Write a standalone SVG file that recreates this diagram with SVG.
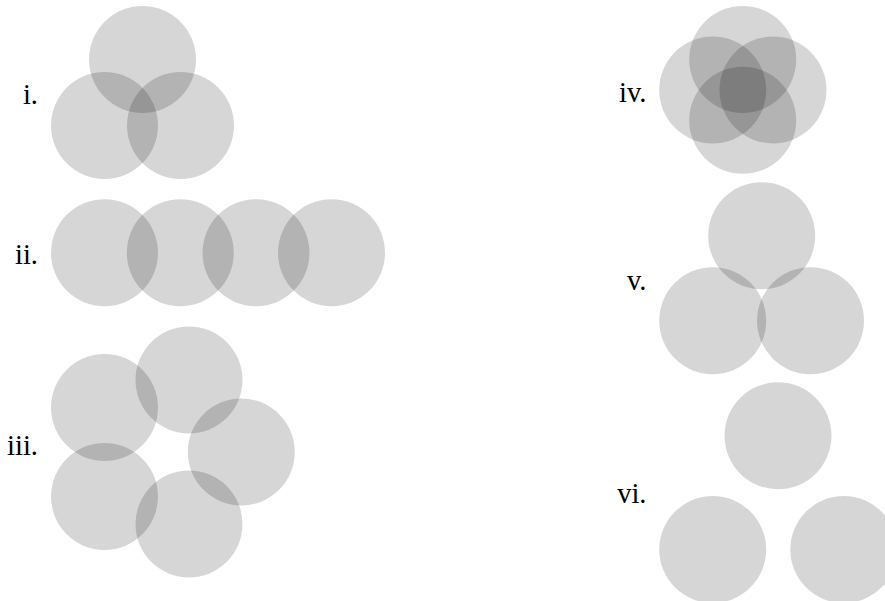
<svg xmlns="http://www.w3.org/2000/svg" width="885" height="601" viewBox="0 0 885 601">
  <style>
    .disc { fill: #000; fill-opacity: 0.16; }
    .label { font-family: "Liberation Serif", "DejaVu Serif", serif; font-size: 28.5px; fill: #000; text-anchor: end; }
  </style>
  <defs>
    <circle id="c" r="53.5"/>
  </defs>
  <rect width="885" height="601" fill="#fff"/>

  <!-- i. three discs, pairwise and triple overlap -->
  <g id="fig-i">
    <text class="label" x="38" y="104">i.</text>
    <use href="#c" class="disc" x="142.5" y="59.5"/>
    <use href="#c" class="disc" x="104.5" y="125.5"/>
    <use href="#c" class="disc" x="180.5" y="125.5"/>
  </g>

  <!-- ii. chain of four discs -->
  <g id="fig-ii">
    <text class="label" x="38" y="264">ii.</text>
    <use href="#c" class="disc" x="104.5" y="252.7"/>
    <use href="#c" class="disc" x="180.3" y="252.7"/>
    <use href="#c" class="disc" x="256" y="252.7"/>
    <use href="#c" class="disc" x="331.5" y="252.7"/>
  </g>

  <!-- iii. ring of five discs -->
  <g id="fig-iii">
    <text class="label" x="38" y="455">iii.</text>
    <use href="#c" class="disc" x="104.5" y="407.5"/>
    <use href="#c" class="disc" x="189" y="380"/>
    <use href="#c" class="disc" x="241.3" y="452"/>
    <use href="#c" class="disc" x="189" y="524"/>
    <use href="#c" class="disc" x="104.5" y="496.5"/>
  </g>

  <!-- iv. four discs in a diamond -->
  <g id="fig-iv">
    <text class="label" x="646.5" y="102">iv.</text>
    <use href="#c" class="disc" x="742.7" y="59.5"/>
    <use href="#c" class="disc" x="712.7" y="90"/>
    <use href="#c" class="disc" x="773" y="90"/>
    <use href="#c" class="disc" x="742.7" y="120.3"/>
  </g>

  <!-- v. three discs, pairwise overlap only -->
  <g id="fig-v">
    <text class="label" x="646.5" y="290">v.</text>
    <use href="#c" class="disc" x="761.7" y="235.7"/>
    <use href="#c" class="disc" x="712.7" y="320.7"/>
    <use href="#c" class="disc" x="810.5" y="320.7"/>
  </g>

  <!-- vi. three disjoint discs -->
  <g id="fig-vi">
    <text class="label" x="646.5" y="503">vi.</text>
    <use href="#c" class="disc" x="778" y="435.8"/>
    <use href="#c" class="disc" x="712.7" y="549.5"/>
    <use href="#c" class="disc" x="843.8" y="549.5"/>
  </g>
</svg>
